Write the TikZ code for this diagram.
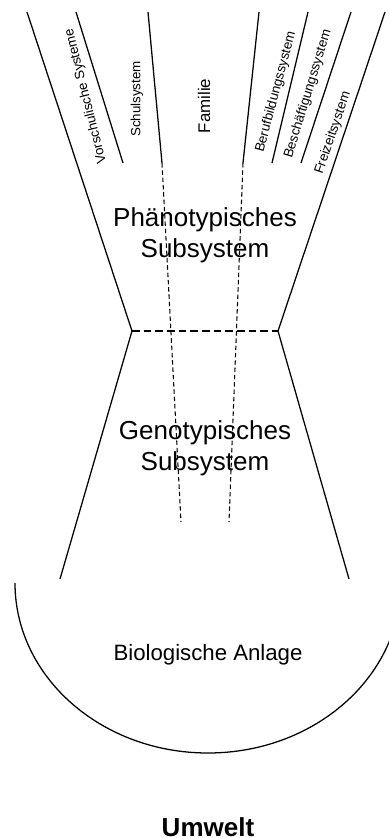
\documentclass[tikz,border=0pt]{standalone}
\usepackage{fontspec}
\setmainfont{Liberation Sans}
\usetikzlibrary{graphs}

\tikzset{
  seam/.style={line width=1.4pt, dash pattern=on 5.5pt off 2.8pt},
  tracer/.style={line width=0.75pt, dash pattern=on 3.2pt off 2pt},
  sys/.style={font=\fontsize{9.5}{11}\selectfont, inner sep=0pt},
  big/.style={font=\fontsize{18.5}{22}\selectfont, align=center, inner sep=0pt},
}

\begin{document}
\begin{tikzpicture}[x=0.025cm, y=-0.025cm, line width=0.9pt]
        \useasboundingbox (0,0) rectangle (389,838);
        \clip (0,0) rectangle (389,838);

        % funnel
        \coordinate (lt) at (27,12);
        \coordinate (lm) at (132,331);
        \coordinate (lb) at (60,579);
        \coordinate (rt) at (385,12);
        \coordinate (rm) at (278,331);
        \coordinate (rb) at (349,579);

        % dividers between the systems
        \coordinate (vt) at (76,12);
        \coordinate (vb) at (123,163);
        \coordinate (st) at (148,12);
        \coordinate (sb) at (162,163);
        \coordinate (se) at (181,522);
        \coordinate (ft) at (259,12);
        \coordinate (fb) at (243,163);
        \coordinate (fe) at (229,522);
        \coordinate (bt) at (308,12);
        \coordinate (bb) at (272,163);
        \coordinate (kt) at (351,12);
        \coordinate (kb) at (301,163);

        \graph {(lt) -- (lm) -- (lb)};
        \graph {(rt) -- (rm) -- (rb)};
        \graph {(lm) --[seam] (rm)};
        \graph {(vt) -- (vb)};
        \graph {(st) -- (sb) --[tracer] (se)};
        \graph {(ft) -- (fb) --[tracer] (fe)};
        \graph {(bt) -- (bb)};
        \graph {(kt) -- (kb)};

        % biological base
        \coordinate (al) at (15,583);
        \draw (al) arc [start angle=180, end angle=0, x radius=193, y radius=170];

        \node[sys, rotate=104] (vor) at (86,96) {Vorschulische Systeme};
        \node[sys, rotate=90] (schul) at (137,99) {Schulsystem};
        \node[sys, rotate=90, font=\fontsize{12}{14}\selectfont] (fam) at (204,106) {Familie};
        \node[sys, rotate=75] (beruf) at (276,92) {Berufbildungssystem};
        \node[sys, rotate=73] (besch) at (308,94) {Beschäftigungssystem};
        \node[sys, rotate=71] (frei) at (333,133) {Freizeitsystem};

        \node[big] (pheno) at (205,235) {Phänotypisches\\Subsystem};
        \node[big] (geno) at (205,448) {Genotypisches\\Subsystem};
        \node[inner sep=0pt, font=\fontsize{15.8}{18}\selectfont] (bio) at (208,655) {Biologische Anlage};
        \node[inner sep=0pt, anchor=base, font=\fontsize{18.5}{22}\selectfont\bfseries] (umw) at (208,836) {Umwelt};
    \end{tikzpicture}
\end{document}
